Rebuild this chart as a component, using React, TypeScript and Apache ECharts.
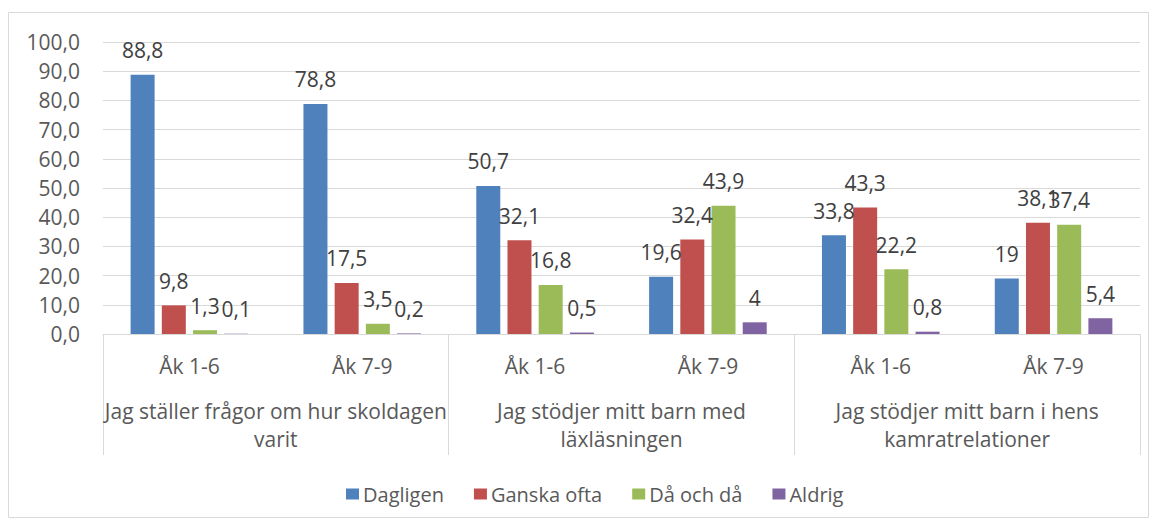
import React, { useEffect, useRef } from "react";
import * as echarts from "echarts";

const categories = ["Åk 1-6", "Åk 7-9", "Åk 1-6", "Åk 7-9", "Åk 1-6", "Åk 7-9"];
const groups = [
  "Jag ställer frågor om hur skoldagen\nvarit",
  "Jag stödjer mitt barn med\nläxläsningen",
  "Jag stödjer mitt barn i hens\nkamratrelationer",
];
const seriesNames = ["Dagligen", "Ganska ofta", "Då och då", "Aldrig"];
const dagligen = [88.8, 78.8, 50.7, 19.6, 33.8, 19];
const ganskaOfta = [9.8, 17.5, 32.1, 32.4, 43.3, 38.1];
const daOchDa = [1.3, 3.5, 16.8, 43.9, 22.2, 37.4];
const aldrig = [0.1, 0.2, 0.5, 4, 0.8, 5.4];
const colors = ["#4f81bd", "#c0504d", "#9bbb59", "#8064a2"];

const FONT = "Open Sans";

export default function App() {
  const ref = useRef<HTMLDivElement>(null);
  useEffect(() => {
    if (!ref.current) return;
    const chart = echarts.init(ref.current, undefined, { renderer: "svg" });
    const values = [dagligen, ganskaOfta, daOchDa, aldrig];
    chart.setOption({
      animation: false,
      textStyle: { fontFamily: FONT },
      graphic: [
        {
          type: "rect",
          shape: { x: 8.5, y: 12.5, width: 1140, height: 505 },
          style: { fill: "none", stroke: "#d9d9d9", lineWidth: 1 },
          silent: true,
        },
      ],
      grid: { left: 103, right: 17, top: 42, bottom: 191 },
      legend: {
        data: seriesNames,
        left: 341,
        top: 479,
        itemWidth: 13,
        itemHeight: 11,
        itemGap: 30,
        icon: "rect",
        textStyle: { fontFamily: FONT, fontSize: 20, color: "#595959", padding: [0, 0, 0, -1] },
      },
      xAxis: [
        {
          type: "category",
          data: categories,
          axisLine: { lineStyle: { color: "#d9d9d9", width: 1 } },
          axisTick: { show: false },
          axisLabel: {
            interval: 0,
            margin: 20,
            fontFamily: FONT,
            fontSize: 21,
            lineHeight: 24,
            color: "#595959",
          },
        },
        {
          type: "category",
          data: groups,
          position: "bottom",
          axisLine: { show: false },
          axisTick: {
            show: true,
            interval: 0,
            length: 121,
            lineStyle: { color: "#d9d9d9", width: 1 },
          },
          axisLabel: {
            interval: 0,
            margin: 63,
            fontFamily: FONT,
            fontSize: 21,
            lineHeight: 28,
            color: "#595959",
          },
        },
      ],
      yAxis: {
        type: "value",
        min: 0,
        max: 100,
        interval: 10,
        axisLine: { show: false },
        axisTick: { show: false },
        splitLine: { lineStyle: { color: "#d9d9d9", width: 1 } },
        axisLabel: {
          margin: 23,
          fontFamily: FONT,
          fontSize: 21,
          color: "#595959",
          formatter: (v: number) => v.toFixed(1).replace(".", ","),
        },
      },
      series: seriesNames.map((name, i) => ({
        name,
        type: "bar",
        xAxisIndex: 0,
        data: values[i],
        barWidth: 24,
        barGap: "30%",
        itemStyle: { color: colors[i] },
        label: {
          show: true,
          position: "top",
          distance: 14,
          fontFamily: FONT,
          fontSize: 21,
          color: "#404040",
          formatter: (p: any) => String(p.value).replace(".", ","),
        },
      })),
    });
    return () => chart.dispose();
  }, []);
  return (
    <div
      ref={ref}
      style={{ position: "fixed", left: 0, top: 0, width: 1157, height: 525, background: "#fff" }}
    />
  );
}
